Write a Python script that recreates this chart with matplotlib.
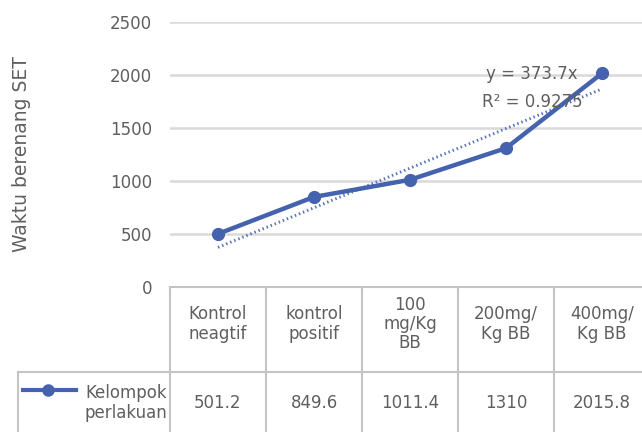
import matplotlib
matplotlib.use("Agg")
import matplotlib.pyplot as plt
import numpy as np
from matplotlib.lines import Line2D

plt.rcParams['font.family'] = ['DejaVu Sans']

categories = ["Kontrol\nneagtif", "kontrol\npositif", "100\nmg/Kg\nBB", "200mg/\nKg BB", "400mg/\nKg BB"]
values = [501.2, 849.6, 1011.4, 1310, 2015.8]
series_name = "Kelompok\nperlakuan"
y_ticks = [0, 500, 1000, 1500, 2000, 2500]
y_label = "Waktu berenang SET"

W, H = 642, 432
fig = plt.figure(figsize=(W / 100, H / 100), dpi=100)

# plot area in pixel units
left_px, right_px, top_px, bottom_px = 170, 650, 22, 287
ax = fig.add_axes([left_px / W, 1 - bottom_px / H, (right_px - left_px) / W, (bottom_px - top_px) / H])

blue = "#4462ad"
text_c = "#5f5f5f"
grid_c = "#d9d9d9"
table_c = "#c4c4c4"
fs = 12

x = np.arange(1, len(values) + 1)

# linear trendline through origin
slope = np.sum(x * np.array(values)) / np.sum(x * x)
fit = slope * x
ss_res = np.sum((np.array(values) - fit) ** 2)
ss_tot = np.sum((np.array(values) - np.mean(values)) ** 2)
r2 = 1 - ss_res / ss_tot

ax.plot(x, values, color=blue, lw=3.2, marker="o", ms=8.5, zorder=3, solid_capstyle="round")
ax.plot(x, fit, color=blue, lw=2.1, ls=(0, (0.5, 1.0)), zorder=2, alpha=0.9)

ax.set_xlim(0.5, 5.5)
ax.set_ylim(0, 2500)
ax.set_yticks(y_ticks)
ax.set_yticklabels([str(t) for t in y_ticks], fontsize=fs, color=text_c)
ax.tick_params(axis="y", length=0, pad=13)
ax.set_xticks([])
ax.grid(axis="y", color=grid_c, lw=1.8)
for s in ["top", "right", "left"]:
    ax.spines[s].set_visible(False)
ax.spines["bottom"].set_color(table_c)
ax.spines["bottom"].set_linewidth(1.5)
ax.set_axisbelow(True)

ax.set_ylabel(y_label, fontsize=13.5, color=text_c)
ax.yaxis.set_label_coords(-(left_px - 31) / (right_px - left_px), 0.5)

def fy(py):
    return 1 - py / H
def fx(px):
    return px / W

fig.text(fx(532), fy(74), f"y = {slope:.1f}x", ha="center", va="center", fontsize=fs, color=text_c, zorder=1)
fig.text(fx(532), fy(102), f"R² = {r2:.4f}", ha="center", va="center", fontsize=fs, color=text_c, zorder=1)

# data table below the plot area
sep_px = 372
trans_x = matplotlib.transforms.blended_transform_factory(ax.transData, fig.transFigure)
for edge in np.arange(0.5, len(values) + 1, 1.0):
    fig.add_artist(Line2D([edge, edge], [fy(bottom_px), fy(H + 5)], transform=trans_x, color=table_c, lw=1.5))
fig.add_artist(Line2D([fx(18), fx(W + 10)], [fy(sep_px), fy(sep_px)], color=table_c, lw=1.5))
fig.add_artist(Line2D([fx(18), fx(18)], [fy(sep_px), fy(H + 5)], color=table_c, lw=1.5))

for xi, cat, v in zip(x, categories, values):
    fig.text(xi, fy(324), cat, transform=trans_x, ha="center", va="center",
             fontsize=fs, color=text_c, linespacing=1.1)
    fig.text(xi, fy(403), f"{v:g}", transform=trans_x, ha="center", va="center",
             fontsize=fs, color=text_c)

fig.text(fx(167), fy(403), series_name, ha="right", va="center", fontsize=fs, color=text_c, linespacing=1.2)
fig.add_artist(Line2D([fx(23), fx(76)], [fy(390), fy(390)], color=blue, lw=3))
fig.add_artist(Line2D([fx(48)], [fy(390)], color=blue, marker="o", ms=8))

fig.savefig("out.png", dpi=100)
